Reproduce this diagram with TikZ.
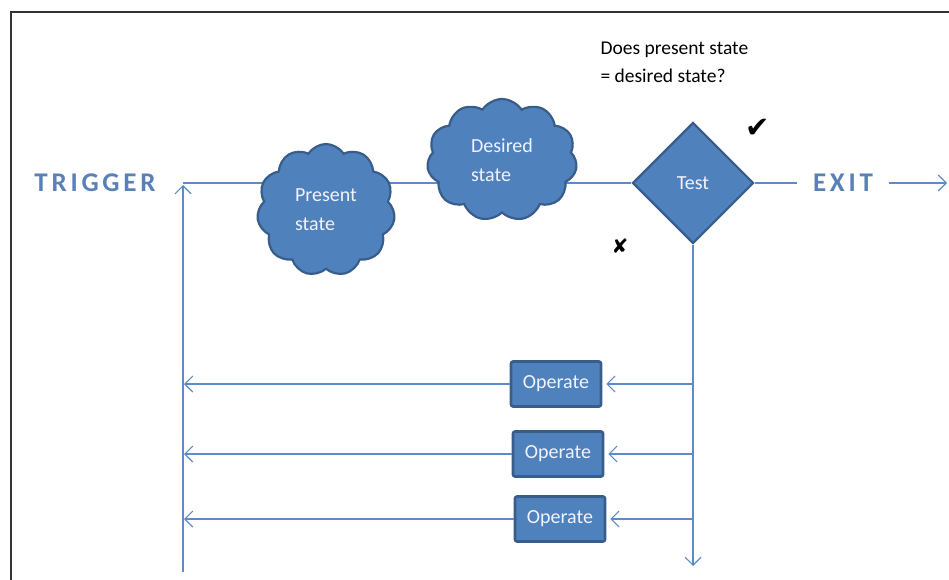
\documentclass[tikz,border=0pt]{standalone}
\usepackage{fontspec}
\setmainfont{Carlito}
\newfontfamily\symbolfont{DejaVu Sans}
\newfontfamily\spacedfont[LetterSpace=14]{Carlito}
\usetikzlibrary{shapes.geometric,shapes.symbols,arrows.meta,backgrounds}

\definecolor{boxfill}{HTML}{4F81BD}
\definecolor{boxedge}{HTML}{385D8A}
\definecolor{wire}{HTML}{5B8BC9}
\definecolor{signtext}{HTML}{5A80B8}

\tikzset{
  wire/.style={draw=wire, line width=1.1pt},
  arrowline/.style={wire, -{Straight Barb[length=8pt,width=16pt,line width=1.1pt]}},
  state/.style={shape=cloud, cloud puffs=11, cloud puff arc=115, aspect=1.05,
    fill=boxfill, draw=boxedge, line width=2.2pt, text=white!95!blue,
    align=left, font=\fontsize{20}{29}\selectfont, inner sep=0pt},
  opbox/.style={rectangle, rounded corners=2pt, fill=boxfill, draw=boxedge,
    line width=2.6pt, minimum width=90pt, minimum height=45pt,
    text=white!95!blue, font=\fontsize{20}{22}\selectfont},
  testbox/.style={diamond, fill=boxfill, draw=boxedge, line width=2.2pt,
    minimum width=121pt, minimum height=121pt, inner sep=0pt,
    text=white!95!blue, font=\fontsize{20}{22}\selectfont},
  signword/.style={text=signtext, font=\fontsize{27}{30}\spacedfont\bfseries, inner xsep=16pt},
}

\begin{document}
\begin{tikzpicture}[x=1pt,y=-1pt]
\useasboundingbox (0,0) rectangle (949,580);

% frame
\draw[black!80, line width=1.5pt] (11,580) -- (11,12) -- (949,12);

% question
\node[anchor=west, align=left, font=\fontsize{19.5}{28}\selectfont] (question) at (597,62)
  {Does present state\\= desired state?};

% states and test
\node[state, minimum width=138pt, minimum height=132pt] (present) at (326,210) {Present\\state};
\node[state, minimum width=150pt, minimum height=122pt] (desired) at (502,160) {Desired\\state};
\node[testbox] (test) at (693,183) {Test};

\node[font=\symbolfont\fontsize{29}{29}\selectfont] (yes) at (758,128) {✔};
\node[font=\symbolfont\fontsize{20}{20}\selectfont] (no) at (620,246) {✘};

% trigger and exit
\node[signword] (trigger) at (95,183) {TRIGGER};
\node[signword] (exit) at (843,183) {EXIT};
\coordinate (corner) at (183,183);
\coordinate (bottomL) at (183,572);
\coordinate (bottomR) at (693,566);
\coordinate (out) at (947,183);

% operate boxes
\node[opbox] (op1) at (556,384) {Operate};
\node[opbox] (op2) at (558,454) {Operate};
\node[opbox] (op3) at (560,519) {Operate};

\foreach \i/\y in {1/384,2/454,3/519}{
  \coordinate (b\i) at (693,\y);
  \coordinate (l\i) at (184,\y);
}

\begin{scope}[on background layer]
  \draw[wire] (corner) -- (test.west);
\end{scope}
\draw[arrowline] (bottomL) -- ([yshift=-2pt]corner);
\draw[wire] (test.east) -- (exit.west);
\draw[arrowline] (exit.east) -- (out);
\draw[arrowline] (test.south) -- (bottomR);

\foreach \i in {1,2,3}{
  \draw[arrowline] (b\i) -- ([xshift=4pt]op\i.east);
  \draw[arrowline] (op\i.west) -- (l\i);
}
\end{tikzpicture}
\end{document}
